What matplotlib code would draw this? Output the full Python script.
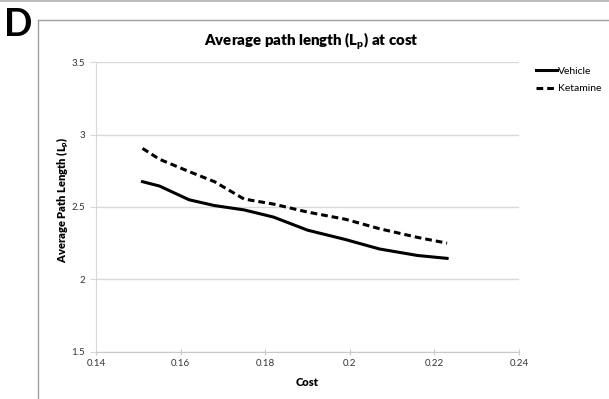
import matplotlib.pyplot as plt
from matplotlib.lines import Line2D

plt.rcParams['font.family'] = ['Lato', 'DejaVu Sans']

cost = [0.151, 0.155, 0.162, 0.168, 0.175, 0.182, 0.190, 0.199, 0.207, 0.216, 0.223]
vehicle = [2.675, 2.645, 2.55, 2.51, 2.48, 2.43, 2.34, 2.275, 2.21, 2.165, 2.145]
ketamine = [2.905, 2.83, 2.745, 2.675, 2.555, 2.52, 2.465, 2.415, 2.35, 2.29, 2.25]
x_ticks = [0.14, 0.16, 0.18, 0.2, 0.22, 0.24]
x_labels = ['0.14', '0.16', '0.18', '0.2', '0.22', '0.24']
y_ticks = [1.5, 2, 2.5, 3, 3.5]
y_labels = ['1.5', '2', '2.5', '3', '3.5']

fig = plt.figure(figsize=(6.09, 3.99), dpi=100)

# panel frame and letter
fig.add_artist(Line2D([0, 1], [0.997, 0.997], color='#b0b0b0', lw=1.2))
fig.add_artist(Line2D([38/609, 38/609], [0, 1 - 20/399], color='#a0a0a0', lw=1.0))
fig.add_artist(Line2D([38/609, 1], [1 - 20/399, 1 - 20/399], color='#a0a0a0', lw=1.0))
fig.text(4/609, 1 - 25/399, 'D', fontsize=27, fontweight='bold', va='center', ha='left')

ax = fig.add_axes([96/609, 47.3/399, 423/609, 289.4/399])
ax.plot(cost, vehicle, color='black', lw=2.2, label='Vehicle')
ax.plot(cost, ketamine, color='black', lw=2.2, ls=(0, (2.2, 1.3)), label='Ketamine')

ax.set_xlim(0.14, 0.24)
ax.set_ylim(1.5, 3.5)
ax.set_xticks(x_ticks, x_labels)
ax.set_yticks(y_ticks, y_labels)
ax.grid(axis='y', color='#d9d9d9', lw=1.0)
ax.set_axisbelow(True)
for s in ['top', 'right']:
    ax.spines[s].set_visible(False)
ax.spines['left'].set_color('#d9d9d9')
ax.spines['bottom'].set_color('#c8c8c8')
ax.tick_params(axis='x', direction='inout', length=5, color='#c8c8c8',
               labelsize=7, labelcolor='#333333', pad=3)
ax.tick_params(axis='y', direction='out', length=4, color='#d9d9d9',
               labelsize=7, labelcolor='#333333', pad=4)

ax.set_xlabel('Cost', fontsize=8, fontweight='heavy', labelpad=6)
ax.set_ylabel('Average Path Length (L$_\\mathregular{p}$)', fontsize=8,
              fontweight='heavy', va='center')
ax.yaxis.set_label_coords(-0.078, 0.524)
fig.text(311/609, 1 - 42/399, 'Average path length (L$_\\mathregular{p}$) at cost',
         fontsize=10.8, fontweight='heavy', ha='center', va='center')

ax.legend(loc='upper left', bbox_to_anchor=(1.03, 1.0), frameon=False,
          fontsize=7.5, handlelength=2.0, handletextpad=0.15, labelspacing=0.8,
          borderaxespad=0)

fig.savefig('out.png', dpi=100)
